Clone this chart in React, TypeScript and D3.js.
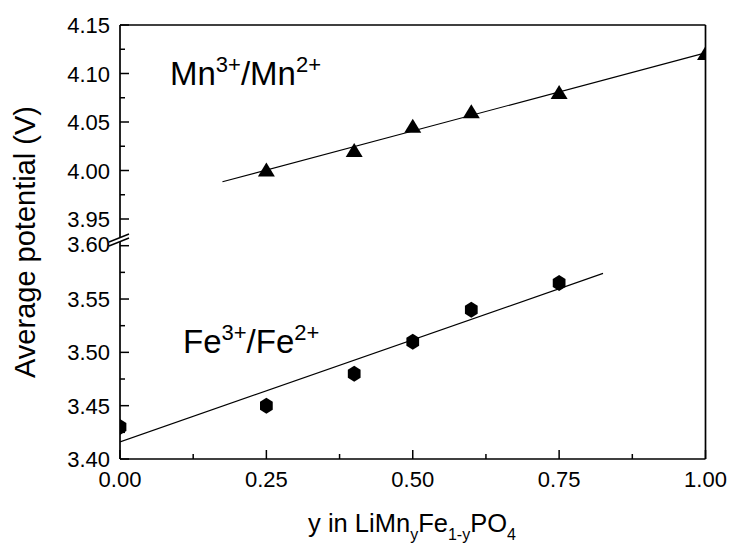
import React from "react";
import * as d3 from "d3";

const mnX = [0.25, 0.4, 0.5, 0.6, 0.75, 1.0];
const mnY = [4.0, 4.02, 4.045, 4.06, 4.08, 4.12];
const feX = [0.0, 0.25, 0.4, 0.5, 0.6, 0.75];
const feY = [3.43, 3.45, 3.48, 3.51, 3.54, 3.565];
const xTicks = [0, 0.25, 0.5, 0.75, 1.0];
const xMinor = [0.125, 0.375, 0.625, 0.875];
const upperTicks = [3.95, 4.0, 4.05, 4.1, 4.15];
const upperMinor = [3.975, 4.025, 4.075, 4.125];
const lowerTicks = [3.4, 3.45, 3.5, 3.55, 3.6];
const lowerMinor = [3.425, 3.475, 3.525, 3.575];
const mnFitRange = [0.175, 1.0];
const feFitRange = [0.0, 0.825];

function fit(xs: number[], ys: number[]) {
  const mx = d3.mean(xs)!;
  const my = d3.mean(ys)!;
  let sxx = 0, sxy = 0;
  xs.forEach((x, i) => {
    sxx += (x - mx) * (x - mx);
    sxy += (x - mx) * (ys[i] - my);
  });
  const b = sxy / sxx;
  const a = my - b * mx;
  return (x: number) => a + b * x;
}

const FONT = "'Liberation Sans', Arial, sans-serif";

export default function App() {
  const W = 731, H = 548;
  const L = 120, R = 705.5, T = 25, B = 459;
  const x = d3.scaleLinear().domain([0, 1]).range([L, R]);
  const yU = d3.scaleLinear().domain([3.95, 4.15]).range([219, T]);
  const yL = d3.scaleLinear().domain([3.4, 3.6]).range([B, 245.7]);

  const mnFit = fit(mnX, mnY);
  const feFit = fit(feX, feY);
  const line = (ys: (v: number) => number) =>
    d3.line<number[]>().x((d) => x(d[0])).y((d) => ys(d[1]));
  const mnLine = line(yU)(mnFitRange.map((v) => [v, mnFit(v)]));
  const feLine = line(yL)(feFitRange.map((v) => [v, feFit(v)]));

  const tri = (cx: number, cy: number) => {
    const s = 8.5;
    return `M${cx},${cy - 8}L${cx + s},${cy + 6}L${cx - s},${cy + 6}Z`;
  };
  const hex = (cx: number, cy: number) => {
    const r = 8;
    const pts = d3.range(6).map((i) => {
      const a = (Math.PI / 3) * i - Math.PI / 2;
      return [cx + r * Math.cos(a) * 0.92, cy + r * Math.sin(a)];
    });
    return "M" + pts.map((p) => p.join(",")).join("L") + "Z";
  };

  const major = 9, minor = 5;
  const tickLabelStyle = { fontFamily: FONT, fontSize: 22, fill: "#000" };

  return (
    <svg width={W} height={H} style={{ position: "absolute", left: 0, top: 0, background: "#fff" }}>
      <defs>
        <clipPath id="plot">
          <rect x={L} y={T} width={R - L} height={B - T} />
        </clipPath>
      </defs>
      <rect x={0} y={0} width={W} height={H} fill="#fff" />

      {/* fit lines and markers */}
      <g clipPath="url(#plot)">
        <path d={mnLine!} stroke="#000" strokeWidth={1.1} fill="none" />
        <path d={feLine!} stroke="#000" strokeWidth={1.1} fill="none" />
        {mnX.map((v, i) => (
          <path key={"m" + i} d={tri(x(v), yU(mnY[i]))} fill="#000" />
        ))}
        {feX.map((v, i) => (
          <path key={"f" + i} d={hex(x(v), yL(feY[i]))} fill="#000" />
        ))}
      </g>

      {/* frame */}
      <g stroke="#000" strokeWidth={1.7} fill="none">
        <line x1={L} y1={T} x2={R} y2={T} />
        <line x1={R} y1={T} x2={R} y2={B} />
        <line x1={L} y1={B} x2={R} y2={B} />
        <line x1={L} y1={T} x2={L} y2={B} />
      </g>

      {/* ticks */}
      <g stroke="#000" strokeWidth={1.5}>
        {xTicks.map((v) => (
          <line key={"xt" + v} x1={x(v)} x2={x(v)} y1={B} y2={B - major} />
        ))}
        {xMinor.map((v) => (
          <line key={"xm" + v} x1={x(v)} x2={x(v)} y1={B} y2={B - minor} />
        ))}
        {upperTicks.map((v) => (
          <line key={"ut" + v} x1={L} x2={L + major} y1={yU(v)} y2={yU(v)} />
        ))}
        {upperMinor.map((v) => (
          <line key={"um" + v} x1={L} x2={L + minor} y1={yU(v)} y2={yU(v)} />
        ))}
        {lowerTicks.map((v) => (
          <line key={"lt" + v} x1={L} x2={L + major} y1={yL(v)} y2={yL(v)} />
        ))}
        {lowerMinor.map((v) => (
          <line key={"lm" + v} x1={L} x2={L + minor} y1={yL(v)} y2={yL(v)} />
        ))}
      </g>

      {/* axis break */}
      <polygon points={`${L - 6},${244.5} ${L + 8},${238.5} ${L + 8},${234.5} ${L - 6},${240.5}`} fill="#fff" />
      <g stroke="#000" strokeWidth={1.5}>
        <line x1={L - 11} y1={246} x2={L + 9} y2={238} />
        <line x1={L - 11} y1={242} x2={L + 9} y2={234} />
      </g>

      {/* tick labels */}
      {xTicks.map((v) => (
        <text key={"xl" + v} x={x(v)} y={487} textAnchor="middle" style={tickLabelStyle}>
          {d3.format(".2f")(v)}
        </text>
      ))}
      {upperTicks.map((v) => (
        <text key={"ul" + v} x={110} y={yU(v) + 8} textAnchor="end" style={tickLabelStyle}>
          {d3.format(".2f")(v)}
        </text>
      ))}
      {lowerTicks.map((v) => (
        <text key={"ll" + v} x={110} y={(v === 3.6 ? 244 : yL(v)) + 8} textAnchor="end" style={tickLabelStyle}>
          {d3.format(".2f")(v)}
        </text>
      ))}

      {/* axis titles */}
      <text x={412} y={532} textAnchor="middle" style={{ fontFamily: FONT, fontSize: 25.5, fill: "#000" }}>
        y in LiMn
        <tspan fontSize={16} dy={8}>y</tspan>
        <tspan dy={-8}>Fe</tspan>
        <tspan fontSize={16} dy={8}>1-y</tspan>
        <tspan dy={-8}>PO</tspan>
        <tspan fontSize={16} dy={8}>4</tspan>
      </text>
      <text
        transform={`translate(35,242) rotate(-90)`}
        textAnchor="middle"
        style={{ fontFamily: FONT, fontSize: 29, fill: "#000" }}
      >
        Average potential (V)
      </text>

      {/* annotations */}
      <text x={170} y={85} style={{ fontFamily: FONT, fontSize: 33, fill: "#000" }}>
        Mn
        <tspan fontSize={22} dy={-13}>3+</tspan>
        <tspan dy={13}>/Mn</tspan>
        <tspan fontSize={22} dy={-13}>2+</tspan>
      </text>
      <text x={183} y={353} style={{ fontFamily: FONT, fontSize: 33, fill: "#000" }}>
        Fe
        <tspan fontSize={22} dy={-13}>3+</tspan>
        <tspan dy={13}>/Fe</tspan>
        <tspan fontSize={22} dy={-13}>2+</tspan>
      </text>
    </svg>
  );
}
